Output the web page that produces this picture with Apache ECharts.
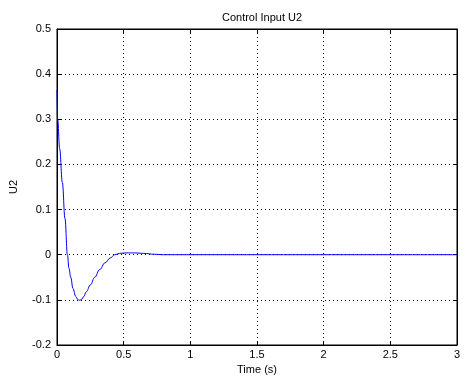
<!DOCTYPE html>
<html>
<head>
<meta charset="utf-8">
<script src="https://cdn.jsdelivr.net/npm/echarts@6/dist/echarts.min.js"></script>
<style>
  html, body { margin: 0; padding: 0; background: #fff; }
  #main { width: 465px; height: 385px; }
</style>
</head>
<body>
<div id="main"></div>
<script>
// time samples (s) and control input values
var timeVals = [0, 0.005, 0.02, 0.04, 0.06, 0.078, 0.09, 0.103, 0.12, 0.14, 0.155, 0.17, 0.185, 0.2, 0.22, 0.25, 0.283, 0.32, 0.36, 0.4, 0.433, 0.47, 0.52, 0.58, 0.65, 0.73, 0.8, 3];
var u2Vals = [0.365, 0.3, 0.235, 0.16, 0.08, 0, -0.03, -0.05, -0.075, -0.092, -0.099, -0.101, -0.099, -0.093, -0.082, -0.067, -0.05, -0.033, -0.018, -0.007, 0, 0.003, 0.004, 0.004, 0.003, 0.001, 0, 0];

var font = 'Liberation Sans, Arial, sans-serif';

var points = timeVals.map(function (t, i) { return [t, u2Vals[i]]; });

var chart = echarts.init(document.getElementById('main'));

var dotted = { color: '#000', width: 1, type: [1, 3] };
var tick = { show: true, inside: true, length: 4, lineStyle: { color: '#000' } };

chart.setOption({
  backgroundColor: '#fff',
  animation: false,
  title: {
    text: 'Control Input U2',
    left: 257, top: 7, textAlign: 'center',
    textStyle: { fontFamily: font, fontSize: 11, fontWeight: 'normal', color: '#000' }
  },
  grid: { left: 57, right: 8, top: 29, bottom: 40, show: true, borderColor: '#000', borderWidth: 1, backgroundColor: '#fff' },
  xAxis: [{
    type: 'value', min: 0, max: 3, interval: 0.5,
    name: 'Time (s)', nameLocation: 'middle', nameGap: 19,
    nameTextStyle: { fontFamily: font, fontSize: 11, color: '#000' },
    axisLine: { show: true, onZero: false, lineStyle: { color: '#000' } },
    axisTick: tick,
    axisLabel: { fontFamily: font, fontSize: 11, color: '#000', margin: 4 },
    splitLine: { show: true, lineStyle: dotted }
  }, {
    type: 'value', min: 0, max: 3, interval: 0.5, position: 'top',
    axisLine: { show: true, onZero: false, lineStyle: { color: '#000' } },
    axisTick: tick,
    axisLabel: { show: false }, splitLine: { show: false }
  }],
  yAxis: [{
    type: 'value', min: -0.2, max: 0.5, interval: 0.1,
    name: 'U2', nameLocation: 'middle', nameGap: 38,
    nameTextStyle: { fontFamily: font, fontSize: 11, color: '#000' },
    axisLine: { show: true, onZero: false, lineStyle: { color: '#000' } },
    axisTick: tick,
    axisLabel: { fontFamily: font, fontSize: 11, color: '#000', margin: 6 },
    splitLine: { show: true, lineStyle: dotted }
  }, {
    type: 'value', min: -0.2, max: 0.5, interval: 0.1, position: 'right',
    axisLine: { show: true, onZero: false, lineStyle: { color: '#000' } },
    axisTick: tick,
    axisLabel: { show: false }, splitLine: { show: false }
  }],
  series: [{
    type: 'line',
    data: points,
    smooth: 0.4,
    smoothMonotone: 'x',
    showSymbol: false,
    lineStyle: { color: '#0000ff', width: 1 },
    itemStyle: { color: '#0000ff' }
  }]
});
</script>
</body>
</html>
